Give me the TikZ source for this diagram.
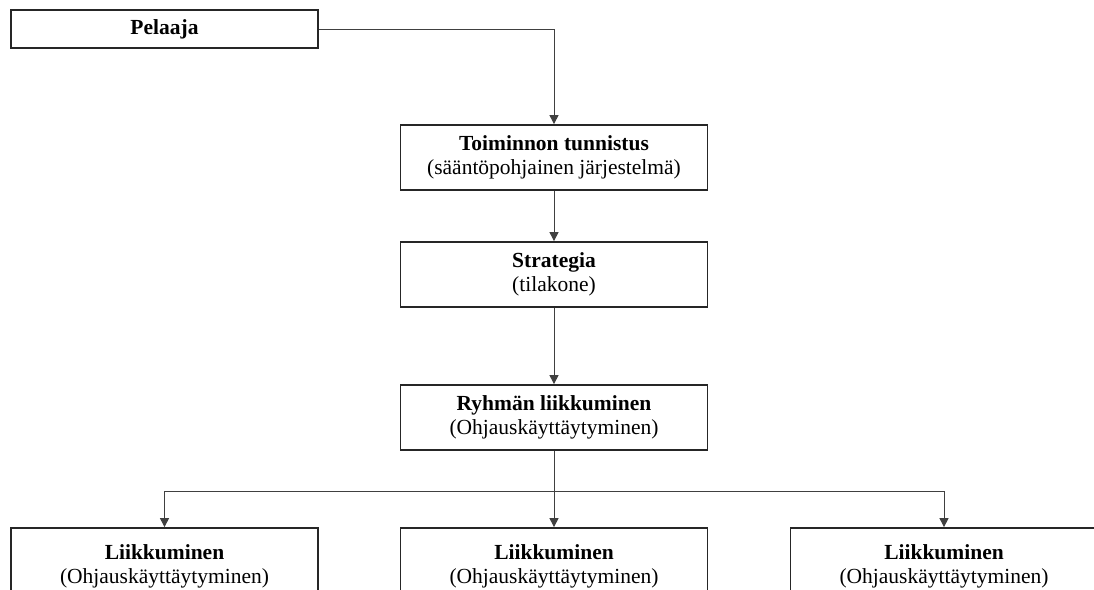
\documentclass[tikz,border=0pt]{standalone}
\usepackage{fontspec}
\setmainfont{Liberation Serif}
\usetikzlibrary{arrows.meta}
\begin{document}
\begin{tikzpicture}[x=1pt,y=-1pt,
  box/.style={draw=black!85,line width=1.8pt,fill=white,minimum width=307pt,
    minimum height=65pt,inner sep=0pt,align=center,
    font=\fontsize{21.5}{24.5}\selectfont},
  conn/.style={draw=black!75,line width=1pt},
  arr/.style={conn,-{Triangle[width=9pt,length=9pt]}}]
\useasboundingbox (0,0) rectangle (1094,589);
\clip (0,0) rectangle (1094,589);
\fill[white] (0,0) rectangle (1094,589);

% boxes
\node[box,minimum height=38pt] (p) at (164.5,29) {\textbf{Pelaaja}};
\node[box] (tt) at (554,157.5) {\textbf{Toiminnon tunnistus}\\(sääntöpohjainen järjestelmä)};
\node[box] (st) at (554,274.5) {\textbf{Strategia}\\(tilakone)};
\node[box] (rl) at (554,417.5) {\textbf{Ryhmän liikkuminen}\\(Ohjauskäyttäytyminen)};
\node[box,minimum height=77pt] (l1) at (164.5,566.5) {\textbf{Liikkuminen}\\(Ohjauskäyttäytyminen)};
\node[box,minimum height=77pt] (l2) at (554,566.5) {\textbf{Liikkuminen}\\(Ohjauskäyttäytyminen)};
\node[box,minimum height=77pt] (l3) at (944,566.5) {\textbf{Liikkuminen}\\(Ohjauskäyttäytyminen)};

% connectors
\draw[arr] (p.east) -| (tt.north);
\draw[arr] (tt.south) -- (st.north);
\draw[arr] (st.south) -- (rl.north);
\draw[arr] (rl.south) -- (l2.north);
\draw[arr] (rl.south) ++(0,41) -| (l1.north);
\draw[arr] (rl.south) ++(0,41) -| (l3.north);
\end{tikzpicture}
\end{document}
